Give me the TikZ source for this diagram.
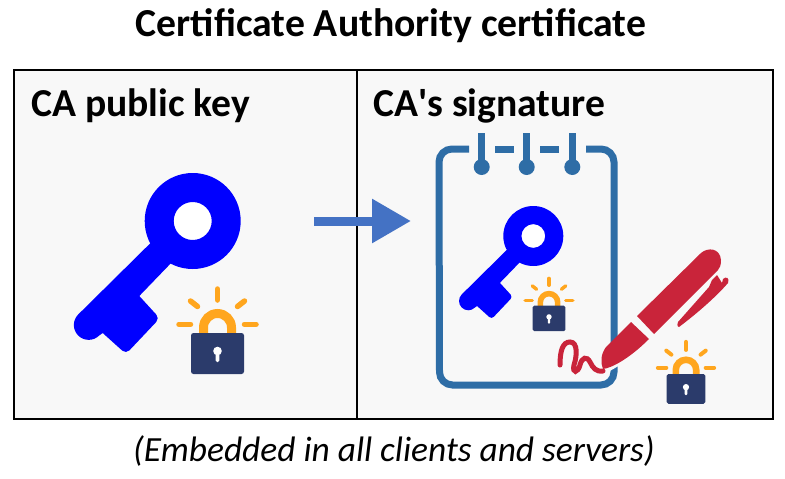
\documentclass[tikz,border=0pt]{standalone}
\usepackage{fontspec}
\setmainfont{Carlito}
\usetikzlibrary{arrows.meta, positioning}

\definecolor{panelgray}{HTML}{F8F8F8}
\definecolor{keyblue}{HTML}{0000FF}
\definecolor{lockorange}{HTML}{FFA61E}
\definecolor{locknavy}{HTML}{2B3B6B}
\definecolor{padblue}{HTML}{2E6DA6}
\definecolor{penred}{HTML}{C9243A}
\definecolor{arrowblue}{HTML}{4472C4}

\tikzset{
  titletext/.style={font=\bfseries\fontsize{39.7}{44}\selectfont, inner sep=0pt},
  paneltext/.style={font=\bfseries\fontsize{39.6}{44}\selectfont, inner sep=0pt, anchor=base west},
  notetext/.style={font=\itshape\fontsize{35.4}{40}\selectfont, inner sep=0pt},
  padline/.style={padblue, line width=7pt},
}

% x, y, scale
\newcommand{\keyicon}[3]{
\begin{scope}[shift={(#1,#2)}, scale=#3]
\fill [white] (0,0) circle (20);
\fill [keyblue] (-30,10) -- (-114.5,93.5) arc (225:45:14.85) -- (-90,112)
  [rounded corners=#3*5pt] -- (-66.7,133) -- (-33,97.3) [sharp corners] -- (-53.4,75) -- (-10,30) -- cycle;
\fill [keyblue, even odd rule] (0,0) circle (48) (0,0) circle (19);
\end{scope}
}

% x, y (middle of the top of the body), scale
\newcommand{\lockicon}[3]{
\begin{scope}[shift={(#1,#2)}, scale=#3]
\draw [lockorange, line width=#3*9pt] (-14,1) -- (-14,-5.5) arc (180:360:14) -- (14,1);
\draw [lockorange, line width=#3*5.5pt, line cap=round] (0,-44) -- (0,-33);
\draw [lockorange, line width=#3*5.5pt, line cap=round] (-38.5,-8.7) -- (-27,-8.7);
\draw [lockorange, line width=#3*5.5pt, line cap=round] (38.5,-8.7) -- (27,-8.7);
\draw [lockorange, line width=#3*5.5pt, line cap=round] (-27,-32) -- (-20,-26.5);
\draw [lockorange, line width=#3*5.5pt, line cap=round] (27,-32) -- (20,-26.5);
\fill [locknavy, rounded corners=#3*2.5pt] (-26.5,0) rectangle (26.5,41);
\fill [white] (0,18) circle (4.3);
\fill [white, rounded corners=#3*1.5pt] (-1.9,18) rectangle (1.9,29);
\end{scope}
}

\begin{document}
\begin{tikzpicture}[x=1pt, y=-1pt]
\useasboundingbox (0,0) rectangle (785,479);

\node [titletext] (title) at (391,26) {Certificate Authority certificate};

\fill [panelgray] (14,70) rectangle (773,419);
\draw [line width=2pt] (14,70) rectangle (773,419);
\draw [line width=2pt] (357,70) -- (357,419);

\node [paneltext] (pubkey) at (31,116) {CA public key};
\node [paneltext] (sig) at (373,116) {CA\textquotesingle s signature};

\keyicon{192.7}{221}{1}
\lockicon{217.5}{333}{1}

\coordinate (arrowstart) at (314,221);
\coordinate (arrowend) at (411,221);
\draw [arrowblue, line width=9pt, -{Triangle[length=39pt, width=42pt]}] (arrowstart) -- (arrowend);

% notepad
\draw [padline] (469,149) -- (452,149) arc (270:180:13) -- (439.5,372) arc (180:90:13) -- (601,385) arc (90:0:13) -- (614,162) arc (360:270:13) -- (586,149);
\draw [padline] (495,149) -- (514,149);
\draw [padline] (540,149) -- (559,149);
\draw [padblue, line width=7pt] (481.7,133) -- (481.7,165);
\draw [padblue, line width=7pt] (526.7,133) -- (526.7,165);
\draw [padblue, line width=7pt] (572.3,133) -- (572.3,165);
\fill [padblue] (481.7,167) circle (8);
\fill [padblue] (526.7,167) circle (8);
\fill [padblue] (572.3,167) circle (8);

\keyicon{533.3}{236}{0.625}
\lockicon{549}{305.7}{0.62}

% signature and pen
\draw [panelgray, line width=4pt] (649,339) .. controls (630,358) and (612,368) .. (603,372);
\draw [penred, line width=5pt, line cap=round] (560,365) .. controls (560,350) and (563,342) .. (570,342) .. controls (578,342) and (577,356) .. (574,365) .. controls (572,374) and (578,373) .. (580,365) .. controls (582,357) and (587,356) .. (590,362) .. controls (593,368) and (596,372) .. (603,371);
\fill [penred] (637,316) -- (701,253) .. controls (708,247) and (720,248) .. (721,260) .. controls (721,265) and (720,268) .. (718,270) -- (654,334) -- cycle;
\fill [penred] (631,322) -- (649,339) .. controls (630,358) and (612,368) .. (603,369) .. controls (600,362) and (601,354) .. (606,347) -- cycle;
\fill [penred] (712,280) -- (717,275) -- (722,283) -- (723,279) .. controls (726,276) and (730,278) .. (728,283) .. controls (715,298) and (695,315) .. (679,327) .. controls (677,327) and (677,323) .. (678,322) -- (709,287) -- cycle;

\lockicon{686}{374}{0.73}

\node [notetext] (embedded) at (394,451) {(Embedded in all clients and servers)};
\end{tikzpicture}
\end{document}
